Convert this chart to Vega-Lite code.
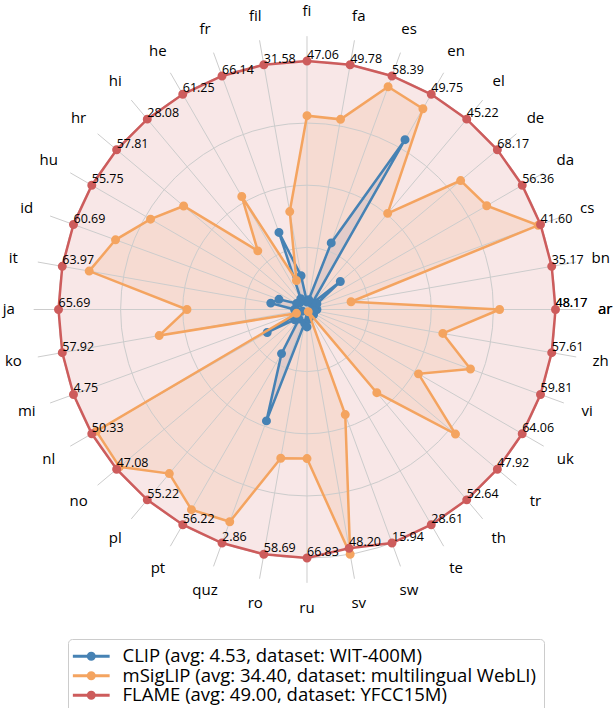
{
"$schema": "https://vega.github.io/schema/vega-lite/v6.json",
"width": 615, "height": 708, "padding": 0, "autosize": {"type": "none"},
"background": "white",
"config": {"view": {"stroke": null}, "font": "Open Sans"},
"datasets": {
"grid": [{"level": 0.25}, {"level": 0.5}, {"level": 0.75}, {"level": 1.0}],
"scores": [
{"lang":"ar","model":"CLIP","value":0.04},{"lang":"bn","model":"CLIP","value":0.03},{"lang":"cs","model":"CLIP","value":0.03},{"lang":"da","model":"CLIP","value":0.046},{"lang":"de","model":"CLIP","value":0.175},{"lang":"el","model":"CLIP","value":0.03},{"lang":"en","model":"CLIP","value":0.789},{"lang":"es","model":"CLIP","value":0.285},{"lang":"fa","model":"CLIP","value":0.04},{"lang":"fi","model":"CLIP","value":0.03},{"lang":"fil","model":"CLIP","value":0.138},{"lang":"fr","model":"CLIP","value":0.33},{"lang":"he","model":"CLIP","value":0.05},{"lang":"hi","model":"CLIP","value":0.04},{"lang":"hr","model":"CLIP","value":0.04},{"lang":"hu","model":"CLIP","value":0.048},{"lang":"id","model":"CLIP","value":0.12},{"lang":"it","model":"CLIP","value":0.148},{"lang":"ja","model":"CLIP","value":0.05},{"lang":"ko","model":"CLIP","value":0.04},{"lang":"mi","model":"CLIP","value":0.02},{"lang":"nl","model":"CLIP","value":0.185},{"lang":"no","model":"CLIP","value":0.064},{"lang":"pl","model":"CLIP","value":0.05},{"lang":"pt","model":"CLIP","value":0.205},{"lang":"quz","model":"CLIP","value":0.477},{"lang":"ro","model":"CLIP","value":0.056},{"lang":"ru","model":"CLIP","value":0.07},{"lang":"sv","model":"CLIP","value":0.04},{"lang":"sw","model":"CLIP","value":0.03},{"lang":"te","model":"CLIP","value":0.02},{"lang":"th","model":"CLIP","value":0.03},{"lang":"tr","model":"CLIP","value":0.034},{"lang":"uk","model":"CLIP","value":0.03},{"lang":"vi","model":"CLIP","value":0.02},{"lang":"zh","model":"CLIP","value":0.03},
{"lang":"ar","model":"mSigLIP","value":0.775},{"lang":"bn","model":"mSigLIP","value":0.18},{"lang":"cs","model":"mSigLIP","value":0.99},{"lang":"da","model":"mSigLIP","value":0.835},{"lang":"de","model":"mSigLIP","value":0.807},{"lang":"el","model":"mSigLIP","value":0.505},{"lang":"en","model":"mSigLIP","value":0.933},{"lang":"es","model":"mSigLIP","value":0.954},{"lang":"fa","model":"mSigLIP","value":0.777},{"lang":"fi","model":"mSigLIP","value":0.78},{"lang":"fil","model":"mSigLIP","value":0.40},{"lang":"fr","model":"mSigLIP","value":0.124},{"lang":"he","model":"mSigLIP","value":0.525},{"lang":"hi","model":"mSigLIP","value":0.308},{"lang":"hr","model":"mSigLIP","value":0.648},{"lang":"hu","model":"mSigLIP","value":0.727},{"lang":"id","model":"mSigLIP","value":0.82},{"lang":"it","model":"mSigLIP","value":0.89},{"lang":"ja","model":"mSigLIP","value":0.483},{"lang":"ko","model":"mSigLIP","value":0.604},{"lang":"mi","model":"mSigLIP","value":0.045},{"lang":"nl","model":"mSigLIP","value":0.979},{"lang":"no","model":"mSigLIP","value":0.985},{"lang":"pl","model":"mSigLIP","value":0.862},{"lang":"pt","model":"mSigLIP","value":0.93},{"lang":"quz","model":"mSigLIP","value":0.909},{"lang":"ro","model":"mSigLIP","value":0.608},{"lang":"ru","model":"mSigLIP","value":0.60},{"lang":"sv","model":"mSigLIP","value":1.0},{"lang":"sw","model":"mSigLIP","value":0.45},{"lang":"te","model":"mSigLIP","value":0.01},{"lang":"th","model":"mSigLIP","value":0.437},{"lang":"tr","model":"mSigLIP","value":0.78},{"lang":"uk","model":"mSigLIP","value":0.518},{"lang":"vi","model":"mSigLIP","value":0.70},{"lang":"zh","model":"mSigLIP","value":0.555},
{"lang":"ar","model":"FLAME","value":1,"score":48.17},{"lang":"bn","model":"FLAME","value":1,"score":35.17},{"lang":"cs","model":"FLAME","value":1,"score":41.60},{"lang":"da","model":"FLAME","value":1,"score":56.36},{"lang":"de","model":"FLAME","value":1,"score":68.17},{"lang":"el","model":"FLAME","value":1,"score":45.22},{"lang":"en","model":"FLAME","value":1,"score":49.75},{"lang":"es","model":"FLAME","value":1,"score":58.39},{"lang":"fa","model":"FLAME","value":1,"score":49.78},{"lang":"fi","model":"FLAME","value":1,"score":47.06},{"lang":"fil","model":"FLAME","value":1,"score":31.58},{"lang":"fr","model":"FLAME","value":1,"score":66.14},{"lang":"he","model":"FLAME","value":1,"score":61.25},{"lang":"hi","model":"FLAME","value":1,"score":28.08},{"lang":"hr","model":"FLAME","value":1,"score":57.81},{"lang":"hu","model":"FLAME","value":1,"score":55.75},{"lang":"id","model":"FLAME","value":1,"score":60.69},{"lang":"it","model":"FLAME","value":1,"score":63.97},{"lang":"ja","model":"FLAME","value":1,"score":65.69},{"lang":"ko","model":"FLAME","value":1,"score":57.92},{"lang":"mi","model":"FLAME","value":1,"score":4.75},{"lang":"nl","model":"FLAME","value":1,"score":50.33},{"lang":"no","model":"FLAME","value":1,"score":47.08},{"lang":"pl","model":"FLAME","value":1,"score":55.22},{"lang":"pt","model":"FLAME","value":1,"score":56.22},{"lang":"quz","model":"FLAME","value":1,"score":2.86},{"lang":"ro","model":"FLAME","value":1,"score":58.69},{"lang":"ru","model":"FLAME","value":1,"score":66.83},{"lang":"sv","model":"FLAME","value":0.976,"score":48.20},{"lang":"sw","model":"FLAME","value":1,"score":15.94},{"lang":"te","model":"FLAME","value":1,"score":28.61},{"lang":"th","model":"FLAME","value":1,"score":52.64},{"lang":"tr","model":"FLAME","value":1,"score":47.92},{"lang":"uk","model":"FLAME","value":1,"score":64.06},{"lang":"vi","model":"FLAME","value":1,"score":59.81},{"lang":"zh","model":"FLAME","value":1,"score":57.61}
]
},
"layer": [
{
"data": {"name": "scores"},
"transform": [
{"window": [{"op": "rank", "as": "idx"}], "sort": [{"field": "lang", "order": "ascending"}], "groupby": ["model"]},
{"calculate": "(datum.idx - 1) * 2 * PI / 36", "as": "theta"},
{"calculate": "datum.value * cos(datum.theta)", "as": "px"},
{"calculate": "datum.value * sin(datum.theta)", "as": "py"}
],
"layer": [
{"transform": [{"filter": "datum.model == 'CLIP'"}], "mark": {"type": "line", "interpolate": "linear-closed", "fill": "#4682b4", "fillOpacity": 0.15, "stroke": "transparent", "strokeWidth": 0},
"encoding": {
"x": {"field": "px", "type": "quantitative", "scale": {"domain": [-1.23541, 1.23944], "nice": false, "zero": false}, "axis": null},
"y": {"field": "py", "type": "quantitative", "scale": {"domain": [-1.60362, 1.24547], "nice": false, "zero": false}, "axis": null},
"order": {"field": "idx", "type": "quantitative"}}},
{"transform": [{"filter": "datum.model == 'mSigLIP'"}], "mark": {"type": "line", "interpolate": "linear-closed", "fill": "#f4a460", "fillOpacity": 0.15, "stroke": "transparent", "strokeWidth": 0},
"encoding": {"x": {"field": "px", "type": "quantitative"}, "y": {"field": "py", "type": "quantitative"}, "order": {"field": "idx", "type": "quantitative"}}},
{"transform": [{"filter": "datum.model == 'FLAME'"}], "mark": {"type": "line", "interpolate": "linear-closed", "fill": "#cd5c5c", "fillOpacity": 0.15, "stroke": "transparent", "strokeWidth": 0},
"encoding": {"x": {"field": "px", "type": "quantitative"}, "y": {"field": "py", "type": "quantitative"}, "order": {"field": "idx", "type": "quantitative"}}}
]
},
{
"data": {"name": "grid"},
"transform": [{"calculate": "0", "as": "cx"}, {"calculate": "0", "as": "cy"}],
"mark": {"type": "point", "shape": "circle", "filled": false, "stroke": "#cccccc", "strokeWidth": 1, "opacity": 1},
"encoding": {
"x": {"field": "cx", "type": "quantitative"},
"y": {"field": "cy", "type": "quantitative"},
"size": {"field": "level", "type": "quantitative", "scale": {"type": "pow", "exponent": 2, "domain": [0, 1], "range": [0, 247009]}, "legend": null}
}
},
{
"data": {"name": "scores"},
"transform": [
{"window": [{"op": "rank", "as": "idx"}], "sort": [{"field": "lang", "order": "ascending"}], "groupby": ["model"]},
{"calculate": "(datum.idx - 1) * 2 * PI / 36", "as": "theta"},
{"calculate": "datum.value * cos(datum.theta)", "as": "px"},
{"calculate": "datum.value * sin(datum.theta)", "as": "py"},
{"calculate": "0", "as": "ox"},
{"calculate": "0", "as": "oy"},
{"calculate": "1.1 * cos(datum.theta)", "as": "sx"},
{"calculate": "1.1 * sin(datum.theta)", "as": "sy"},
{"calculate": "1.2 * cos(datum.theta)", "as": "lx"},
{"calculate": "1.2 * sin(datum.theta)", "as": "ly"}
],
"layer": [
{"transform": [{"filter": "datum.model == 'FLAME'"}], "mark": {"type": "rule", "stroke": "#cccccc", "strokeWidth": 1},
"encoding": {
"x": {"field": "ox", "type": "quantitative"},
"y": {"field": "oy", "type": "quantitative"},
"x2": {"field": "sx"}, "y2": {"field": "sy"}
}},
{"transform": [{"filter": "datum.model == 'CLIP'"}], "mark": {"type": "line", "interpolate": "linear-closed", "stroke": "#4682b4", "strokeWidth": 2.5},
"encoding": {"x": {"field": "px", "type": "quantitative"}, "y": {"field": "py", "type": "quantitative"}, "order": {"field": "idx", "type": "quantitative"}}},
{"transform": [{"filter": "datum.model == 'CLIP'"}], "mark": {"type": "point", "shape": "circle", "filled": false, "size": 20, "strokeWidth": 4.5, "opacity": 1},
"encoding": {"x": {"field": "px", "type": "quantitative"}, "y": {"field": "py", "type": "quantitative"},
"color": {"field": "model", "type": "nominal",
"scale": {"domain": ["CLIP", "mSigLIP", "FLAME"], "range": ["#4682b4", "#f4a460", "#cd5c5c"]},
"legend": {"orient": "none", "legendX": 68, "legendY": 639, "title": null, "direction": "vertical",
"labelExpr": "datum.value == 'CLIP' ? 'CLIP (avg: 4.53, dataset: WIT-400M)' : datum.value == 'mSigLIP' ? 'mSigLIP (avg: 34.40, dataset: multilingual WebLI)' : 'FLAME (avg: 49.00, dataset: YFCC15M)'",
"labelFont": "Open Sans", "labelFontSize": 18.5, "labelColor": "#000000", "labelLimit": 600,
"symbolType": "M-4.6,0L4.6,0M-0.75,0A0.75,0.75,0,1,1,0.75,0A0.75,0.75,0,1,1,-0.75,0ZM-0.3,0A0.3,0.3,0,1,1,0.3,0A0.3,0.3,0,1,1,-0.3,0Z",
"symbolSize": 64, "symbolStrokeWidth": 3, "symbolOffset": 6, "labelOffset": 22,
"padding": 8, "rowPadding": 0.5, "strokeColor": "#cccccc", "fillColor": "white", "cornerRadius": 4
}}}},
{"transform": [{"filter": "datum.model == 'mSigLIP'"}], "mark": {"type": "line", "interpolate": "linear-closed", "stroke": "#f4a460", "strokeWidth": 2.5},
"encoding": {"x": {"field": "px", "type": "quantitative"}, "y": {"field": "py", "type": "quantitative"}, "order": {"field": "idx", "type": "quantitative"}}},
{"transform": [{"filter": "datum.model == 'mSigLIP'"}], "mark": {"type": "point", "shape": "circle", "filled": false, "size": 20, "strokeWidth": 4.5, "opacity": 1},
"encoding": {"x": {"field": "px", "type": "quantitative"}, "y": {"field": "py", "type": "quantitative"}, "color": {"field": "model", "type": "nominal"}}},
{"transform": [{"filter": "datum.model == 'FLAME'"}], "mark": {"type": "line", "interpolate": "linear-closed", "stroke": "#cd5c5c", "strokeWidth": 2.5},
"encoding": {"x": {"field": "px", "type": "quantitative"}, "y": {"field": "py", "type": "quantitative"}, "order": {"field": "idx", "type": "quantitative"}}},
{"transform": [{"filter": "datum.model == 'FLAME'"}], "mark": {"type": "point", "shape": "circle", "filled": false, "size": 20, "strokeWidth": 4.5, "opacity": 1},
"encoding": {"x": {"field": "px", "type": "quantitative"}, "y": {"field": "py", "type": "quantitative"}, "color": {"field": "model", "type": "nominal"}}},
{"transform": [{"filter": "datum.model == 'FLAME'"}], "mark": {"type": "text", "align": "left", "baseline": "alphabetic", "dy": -2, "fontSize": 12.5, "font": "Open Sans", "color": "#000000"},
"encoding": {"x": {"field": "px", "type": "quantitative"}, "y": {"field": "py", "type": "quantitative"}, "text": {"field": "score", "type": "quantitative", "format": ".2f"}}},
{"transform": [{"filter": "datum.model == 'FLAME' && datum.lang == 'ar'"}], "mark": {"type": "text", "align": "left", "baseline": "alphabetic", "dy": -2, "fontSize": 12.5, "font": "Open Sans", "color": "#000000"},
"encoding": {"x": {"field": "px", "type": "quantitative"}, "y": {"field": "py", "type": "quantitative"}, "text": {"field": "score", "type": "quantitative", "format": ".2f"}}},
{"transform": [{"filter": "datum.model == 'FLAME'"}], "mark": {"type": "text", "align": "center", "baseline": "middle", "fontSize": 15, "font": "Open Sans", "color": "#000000"},
"encoding": {"x": {"field": "lx", "type": "quantitative"}, "y": {"field": "ly", "type": "quantitative"}, "text": {"field": "lang", "type": "nominal"}}},
{"transform": [{"filter": "datum.model == 'FLAME' && datum.lang == 'ar'"}], "mark": {"type": "text", "align": "center", "baseline": "middle", "fontSize": 15, "font": "Open Sans", "color": "#000000"},
"encoding": {"x": {"field": "lx", "type": "quantitative"}, "y": {"field": "ly", "type": "quantitative"}, "text": {"field": "lang", "type": "nominal"}}}
]
}
]
}
